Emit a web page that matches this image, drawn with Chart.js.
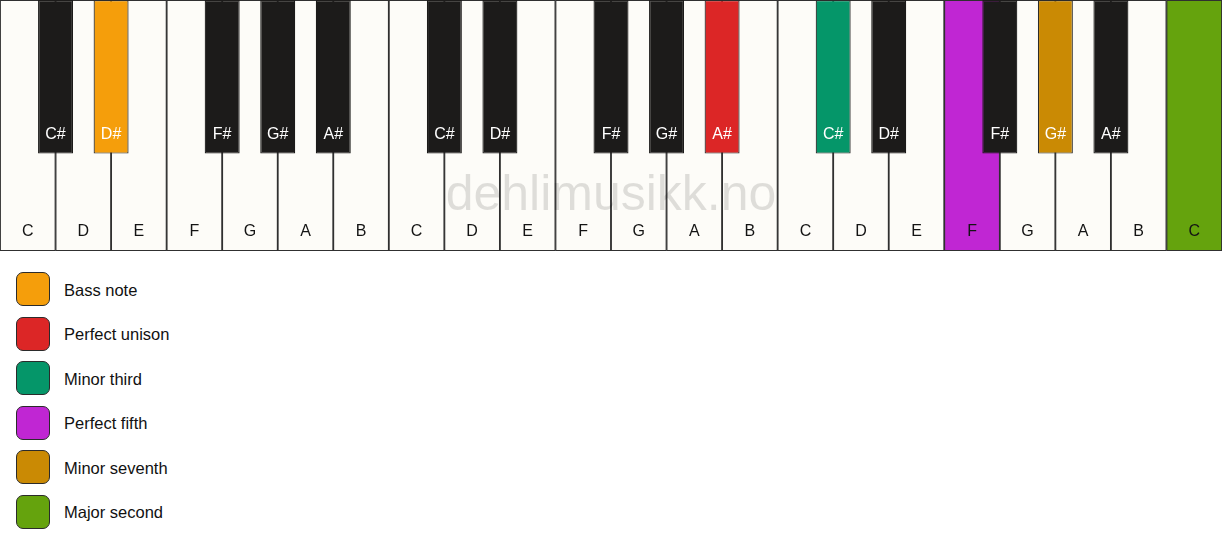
<!DOCTYPE html>
<html>
<head>
<meta charset="utf-8">
<script src="https://cdn.jsdelivr.net/npm/chart.js@4"></script>
<style>
  html, body { margin: 0; padding: 0; background: #ffffff; }
  body { width: 1222px; height: 550px; position: relative; font-family: 'Liberation Sans', Arial, sans-serif; }
  #keys { position: absolute; left: 0; top: 0; width: 1222px; height: 251px; }
  #legend { position: absolute; left: 16px; top: 272px; }
  .item { display: flex; align-items: center; height: 34px; margin-bottom: 10.5px; }
  .swatch { width: 34px; height: 34px; box-sizing: border-box; border: 1.5px solid #2b2b2b; border-radius: 7px; }
  .label { margin-left: 14px; font-size: 16.5px; color: #111; position: relative; top: 1px; }
</style>
</head>
<body>
<div id="keys"><canvas id="chart"></canvas></div>
<div id="legend"></div>
<script>
// white keys, left to right (one unit each)
const whiteNotes = ['C','D','E','F','G','A','B','C','D','E','F','G','A','B','C','D','E','F','G','A','B','C'];
// black keys and the white-key boundary they sit on
const blackNotes = ['C#','D#','F#','G#','A#','C#','D#','F#','G#','A#','C#','D#','F#','G#','A#'];
const blackPositions = [1,2,4,5,6,8,9,11,12,13,15,16,18,19,20];
// key lengths (white key = 1)
const whiteLength = 1;
const blackLength = 0.612;

// chord roles: index into roles, or -1 for unmarked key
const roles = ['Bass note','Perfect unison','Minor third','Perfect fifth','Minor seventh','Major second'];
const whiteRoles = [-1,-1,-1,-1,-1,-1,-1,-1,-1,-1,-1,-1,-1,-1,-1,-1,-1,3,-1,-1,-1,5];
const blackRoles = [-1,0,-1,-1,-1,-1,-1,-1,-1,1,2,-1,-1,4,-1];

const roleColors = ['#f59e0b','#dc2626','#059669','#c026d3','#ca8a04','#65a30d'];
const whiteColor = '#fdfcf8';
const blackColor = '#1c1b1a';

const whiteData = whiteNotes.map((n, i) => ({ x: i + 0.5, y: [0, whiteLength] }));
const blackData = blackPositions.map(p => ({ x: p, y: [0, blackLength] }));

//Labels + watermark drawn on top of the bars
const keyLabels = {
  id: 'keyLabels',
  afterDatasetsDraw(chart) {
    const ctx = chart.ctx;
    const area = chart.chartArea;
    ctx.save();
    ctx.font = '50px "Liberation Sans", Arial, sans-serif';
    ctx.fillStyle = 'rgba(0,0,0,0.12)';
    ctx.textAlign = 'center';
    ctx.textBaseline = 'alphabetic';
    ctx.fillText('dehlimusikk.no', (area.left + area.right) / 2, 210);

    ctx.font = '16px "Liberation Sans", Arial, sans-serif';
    ctx.textBaseline = 'middle';
    chart.data.datasets.forEach((ds, di) => {
      const meta = chart.getDatasetMeta(di);
      meta.data.forEach((el, i) => {
        const bottom = Math.max(el.y, el.base);
        ctx.fillStyle = ds.textColor;
        ctx.fillText(ds.notes[i], el.x, bottom - 19);
      });
    });
    ctx.restore();
  }
};

new Chart(document.getElementById('chart'), {
  type: 'bar',
  data: {
    datasets: [
      {
        label: 'black',
        data: blackData,
        notes: blackNotes,
        textColor: '#ffffff',
        xAxisID: 'xb',
        grouped: false,
        order: 0,
        barPercentage: 0.63,
        categoryPercentage: 1,
        backgroundColor: blackRoles.map(r => r < 0 ? blackColor : roleColors[r]),
        borderColor: blackRoles.map(r => r < 0 ? blackColor : '#2b2b2b'),
        borderWidth: 1.2,
        borderSkipped: false
      },
      {
        label: 'white',
        data: whiteData,
        notes: whiteNotes,
        textColor: '#141414',
        xAxisID: 'xw',
        grouped: false,
        order: 1,
        barPercentage: 1,
        categoryPercentage: 1,
        backgroundColor: whiteRoles.map(r => r < 0 ? whiteColor : roleColors[r]),
        borderColor: '#303030',
        borderWidth: 1.25,
        borderSkipped: false
      }
    ]
  },
  options: {
    responsive: true,
    maintainAspectRatio: false,
    animation: false,
    layout: { padding: 0 },
    plugins: { legend: { display: false }, tooltip: { enabled: false } },
    scales: {
      xw: { type: 'linear', min: 0, max: whiteNotes.length, display: false, offset: false },
      xb: { type: 'linear', min: 0, max: whiteNotes.length, display: false, offset: false },
      y: { min: 0, max: whiteLength, reverse: true, display: false }
    }
  },
  plugins: [keyLabels]
});

//Legend list under the keyboard
const legend = document.getElementById('legend');
roles.forEach((name, i) => {
  const item = document.createElement('div');
  item.className = 'item';
  item.innerHTML = '<div class="swatch" style="background:' + roleColors[i] + '"></div><span class="label">' + name + '</span>';
  legend.appendChild(item);
});
</script>
</body>
</html>
